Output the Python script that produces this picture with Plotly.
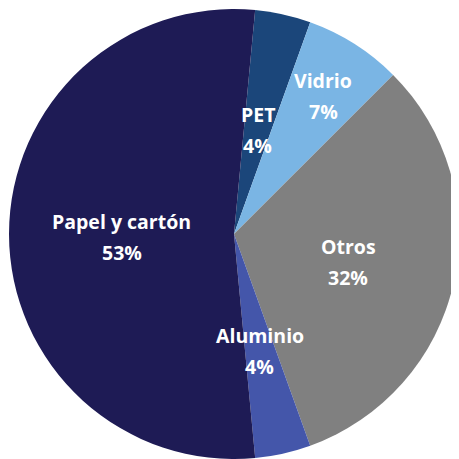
import math
import plotly.graph_objects as go

categories = ["PET", "Vidrio", "Otros", "Aluminio", "Papel y cartón"]
values = [4, 7, 32, 4, 53]
colors = ["#1b467a", "#7ab5e4", "#808080", "#4456aa", "#1e1b55"]
label_radius = [0.485, 0.74, 0.52, 0.52, 0.5]  # radial fraction for labels (style)

W = H = 451
PAGE_OFF = 8          # browser body margin
SCREEN_CX, SCREEN_CY, SCREEN_R = 234, 234, 225
cx = SCREEN_CX - PAGE_OFF
cy = SCREEN_CY - PAGE_OFF
R = SCREEN_R
dom_x = [max(0, (cx - R) / W), min(1, (cx + R) / W)]
dom_y = [max(0, 1 - (cy + R) / H), min(1, 1 - (cy - R) / H)]
ROTATION = 5.4

fig = go.Figure(go.Pie(
    labels=categories,
    values=values,
    sort=False,
    direction="clockwise",
    rotation=ROTATION,
    marker=dict(colors=colors, line=dict(width=0)),
    textinfo="none",
    hoverinfo="label+percent",
    domain=dict(x=dom_x, y=dom_y),
    showlegend=False,
))

total = sum(values)
cum = 0
annotations = []
font = dict(family="Open Sans", size=19.5, color="white", weight="bold")
for cat, v, rf in zip(categories, values, label_radius):
    mid = ROTATION + (cum + v / 2) / total * 360
    cum += v
    a = math.radians(mid)
    px = cx + rf * R * math.sin(a)
    py = cy - rf * R * math.cos(a)
    xp, yp = px / W, 1 - py / H
    pct = f"{round(v / total * 100)}%"
    for txt, shift in ((cat, 13), (pct, -18)):
        annotations.append(dict(x=xp, y=yp, xref="paper", yref="paper", text=txt,
                                xanchor="center", yanchor="middle",
                                showarrow=False, font=font, yshift=shift))

fig.update_layout(
    width=W, height=H,
    margin=dict(l=0, r=0, t=0, b=0),
    paper_bgcolor="white",
    plot_bgcolor="white",
    annotations=annotations,
)
fig.write_html("out.html")
